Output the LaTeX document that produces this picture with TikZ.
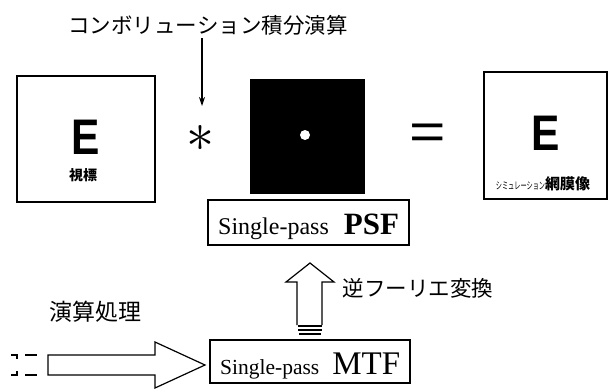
\documentclass[tikz,border=0pt]{standalone}
\usepackage{fontspec}
\usepackage{graphicx}
\setmainfont{Liberation Serif}
\newfontfamily\jpfont{Noto Sans CJK JP}
\newfontfamily\sansfont{Liberation Sans}
\usetikzlibrary{arrows.meta,calc}
\begin{document}
\begin{tikzpicture}[x=1pt,y=-1pt,
  frame/.style={draw, line width=1.8pt, inner sep=0pt},
  txtbox/.style={draw, line width=1.5pt, inner sep=0pt},
  jptext/.style={font=\jpfont\fontsize{21.5}{21.5}\selectfont, inner sep=0pt},
  bigE/.style={font=\sansfont\bfseries\fontsize{50}{50}\selectfont, inner sep=0pt, xscale=0.85},
  hollow/.style={draw, line width=1.2pt, line join=miter},
  stripe/.style={line width=1.4pt}]
\useasboundingbox (0,0) rectangle (616,389);

% title and its arrow
\node[jptext] (title) at (208,25) {コンボリューション積分演算};
\coordinate (convtop) at (202,38);
\coordinate (convtip) at (202,106);
\draw[-{Stealth[length=9pt,width=6pt]}, line width=1.2pt] (convtop) -- (convtip);

% left box: target
\node[frame, minimum width=138pt, minimum height=126pt] (target) at (86,139) {};
\node[bigE] (e1) at (86,137) {E};
\node[font=\jpfont\bfseries\fontsize{14}{14}\selectfont, inner sep=0pt] (lbl1) at (83,175) {視標};

% convolution operator
\node[inner sep=0pt] (conv) at (200,138) {\scalebox{5.6}{$\ast$}};

% PSF image
\node[fill=black, minimum width=115pt, minimum height=115pt, inner sep=0pt] (psfimg) at (307.5,136.5) {};
\node[circle, fill=white, minimum size=10pt, inner sep=0pt] (dot) at (305,135) {};

% equals
\node[inner sep=0pt, font=\sansfont\fontsize{52}{52}\selectfont, xscale=1.2] (eq) at (428,137) {=};

% right box: simulated retinal image
\node[frame, minimum width=123pt, minimum height=127pt] (retina) at (545.5,135.5) {};
\node[bigE] (e2) at (546,133) {E};
\node[inner sep=0pt] (lbl2) at (543,184) {{\jpfont\fontsize{10}{10}\selectfont\scalebox{0.62}[1]{シミュレーション}}{\jpfont\bfseries\fontsize{15}{15}\selectfont 網膜像}};

% PSF box
\node[txtbox, minimum width=201pt, minimum height=45pt] (psf) at (308.5,222.5) {};
\node[anchor=base west, inner sep=0pt] (psftext) at (218,234) {{\fontsize{24}{24}\selectfont Single-pass}\hspace{15pt}{\fontsize{31}{31}\selectfont\bfseries PSF}};

% MTF box
\node[txtbox, minimum width=200pt, minimum height=43pt] (mtf) at (310,361.5) {};
\node[anchor=base west, inner sep=0pt] (mtftext) at (220,374) {{\fontsize{21.5}{21.5}\selectfont Single-pass}\hspace{13pt}{\fontsize{33}{33}\selectfont MTF}};

% hollow up arrow (inverse Fourier transform)
\draw[hollow] (297,325) -- (297,282) -- (286,282) -- (310,263) -- (334,282) -- (322,282) -- (322,325);
\draw[stripe] (298,326) -- (322,326);
\draw[stripe] (298,330) -- (322,330);
\draw[stripe] (299,334) -- (321,334);
\node[jptext] (ift) at (418,288) {逆フーリエ変換};

% processing label and hollow right arrow
\node[jptext, font=\jpfont\fontsize{23}{23}\selectfont] (proc) at (95,312) {演算処理};
\draw[hollow] (48,355) -- (155,355) -- (155,342) -- (205,365) -- (155,388) -- (155,375) -- (48,375) -- cycle;
\draw[hollow] (11,355) -- (17,355) -- (17,359);
\draw[hollow] (17,371) -- (17,375) -- (11,375);
\draw[hollow] (25,355) -- (37,355);
\draw[hollow] (25,375) -- (37,375);
\end{tikzpicture}
\end{document}
